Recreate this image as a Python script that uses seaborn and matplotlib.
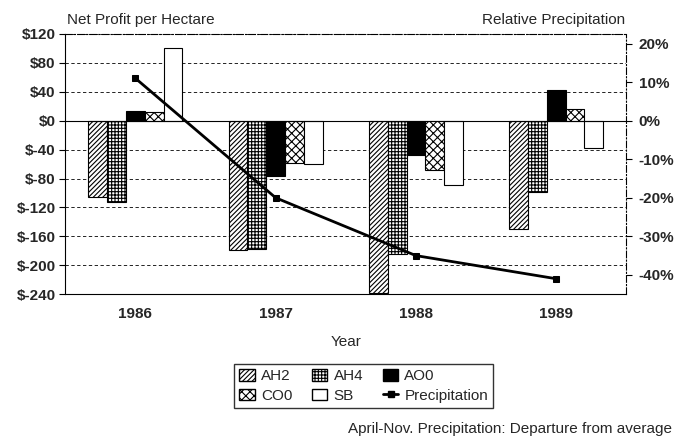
"""Net profit per hectare by rotation vs. relative precipitation."""

import matplotlib

matplotlib.use("Agg")
import matplotlib.pyplot as plt
import numpy as np
import pandas as pd
import seaborn as sns
from matplotlib.lines import Line2D
from matplotlib.patches import Patch
from matplotlib.ticker import FuncFormatter

years = ["1986", "1987", "1988", "1989"]
systems = ["AH2", "AH4", "AO0", "CO0", "SB"]
profit_ah2 = [-106, -179, -238, -150]
profit_ah4 = [-112, -177, -184, -98]
profit_ao0 = [14, -76, -48, 42]
profit_co0 = [12, -58, -68, 16]
profit_sb = [101, -60, -89, -38]
precip_pct = [11, -20, -35, -41]

sns.set_theme(style="white")
plt.rcParams["font.family"] = ["Liberation Sans", "DejaVu Sans"]
plt.rcParams["hatch.linewidth"] = 0.8

profits = {
    "AH2": profit_ah2,
    "AH4": profit_ah4,
    "AO0": profit_ao0,
    "CO0": profit_co0,
    "SB": profit_sb,
}
df = pd.DataFrame(
    [(y, s, profits[s][i]) for s in systems for i, y in enumerate(years)],
    columns=["year", "system", "profit"],
)
precip = pd.DataFrame({"pos": np.arange(len(years)), "precip": precip_pct})

# style per system: facecolor, hatch
styles = {
    "AH2": ("white", "///////"),
    "AH4": ("white", "+++++"),
    "AO0": ("black", None),
    "CO0": ("white", "xxxx"),
    "SB": ("white", None),
}
FS = 11

fig = plt.figure(figsize=(6.8, 4.41), dpi=100)
ax = fig.add_axes([0.096, 0.333, 0.825, 0.59])

sns.barplot(
    data=df,
    x="year",
    y="profit",
    hue="system",
    hue_order=systems,
    order=years,
    width=0.67,
    palette=["white"] * 5,
    edgecolor="black",
    linewidth=0.8,
    legend=False,
    ax=ax,
)
for name, cont in zip(systems, ax.containers):
    fc, hatch = styles[name]
    for bar in cont:
        bar.set_facecolor(fc)
        bar.set_edgecolor("black")
        if hatch:
            bar.set_hatch(hatch)

ax.set_ylim(-240, 120)
ax.set_yticks(np.arange(-240, 121, 40))
ax.yaxis.set_major_formatter(FuncFormatter(lambda v, _: f"${int(v)}"))
ax.set_xlim(-0.5, 3.5)
ax.axhline(0, color="black", lw=0.8)
for v in np.arange(-200, 121, 40):
    if v != 0:
        ax.axhline(v, color="black", lw=0.6, ls=(0, (4, 3)), zorder=0)
ax.set_xlabel("Year", fontsize=FS, labelpad=10)
ax.set_ylabel("")
ax.tick_params(axis="both", labelsize=FS, length=4, width=0.8, color="black",
               direction="out", left=True, bottom=False)
ax.tick_params(axis="x", pad=5)
ax.tick_params(axis="y", pad=3)
for lbl in ax.get_yticklabels():
    lbl.set_fontweight("bold")
for lbl in ax.get_xticklabels():
    lbl.set_fontweight("bold")

for side, spine in ax.spines.items():
    spine.set_color("black")
    spine.set_linewidth(0.8)
    if side in ("top", "right"):
        spine.set_linestyle((0, (6, 2, 1, 2)))

ax2 = ax.twinx()
sns.lineplot(
    data=precip,
    x="pos",
    y="precip",
    color="black",
    lw=2,
    marker="s",
    markersize=5,
    markeredgecolor="black",
    ax=ax2,
)
ax2.set_ylim(-45, 22.5)
ax2.set_yticks(np.arange(-40, 21, 10))
ax2.yaxis.set_major_formatter(FuncFormatter(lambda v, _: f"{int(v)}%"))
ax2.set_xlim(-0.5, 3.5)
ax2.set_ylabel("")
ax2.set_xlabel("")
ax2.tick_params(axis="y", labelsize=FS, length=4, width=0.8, color="black",
                direction="out", right=True, pad=5)
for lbl in ax2.get_yticklabels():
    lbl.set_fontweight("bold")
for spine in ax2.spines.values():
    spine.set_visible(False)

fig.text(0.099, 0.945, "Net Profit per Hectare", fontsize=FS, ha="left", va="baseline")
fig.text(0.92, 0.945, "Relative Precipitation", fontsize=FS, ha="right", va="baseline")

handles = [
    Patch(facecolor=styles[s][0], edgecolor="black", hatch=styles[s][1], label=s)
    for s in systems
]
handles.append(
    Line2D([0], [0], color="black", lw=2, marker="s", markersize=4, label="Precipitation")
)
order = [0, 3, 1, 4, 2, 5]
fig.legend(
    [handles[i] for i in order],
    [handles[i].get_label() for i in order],
    ncol=3,
    loc="center",
    bbox_to_anchor=(0.535, 0.125),
    fontsize=FS,
    frameon=True,
    fancybox=False,
    edgecolor="black",
    handlelength=1.0,
    handleheight=0.8,
    handletextpad=0.4,
    columnspacing=1.3,
    labelspacing=0.35,
    borderpad=0.35,
)

fig.text(0.988, 0.012, "April-Nov. Precipitation: Departure from average",
         fontsize=FS, ha="right", va="bottom")

fig.savefig("out.png", dpi=100)
